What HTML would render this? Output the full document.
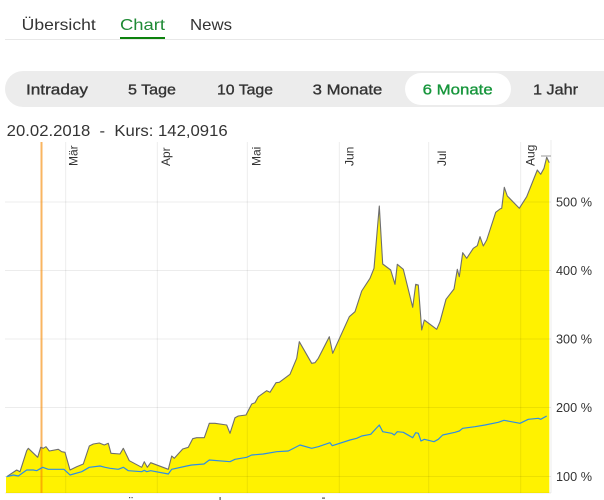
<!DOCTYPE html>
<html>
<head>
<meta charset="utf-8">
<style>
html,body{margin:0;padding:0;background:#fff;}
svg{display:block;}
text{font-family:"Liberation Sans",sans-serif;}
</style>
</head>
<body>
<svg width="604" height="500" viewBox="0 0 604 500" xmlns="http://www.w3.org/2000/svg">
  <!-- top tabs -->
  <text x="21.7" y="30" font-size="16" fill="#333" textLength="74" lengthAdjust="spacingAndGlyphs">Übersicht</text>
  <text x="120" y="30" font-size="16" fill="#1f8a35" textLength="45" lengthAdjust="spacingAndGlyphs">Chart</text>
  <text x="190" y="30" font-size="16" fill="#333" textLength="42" lengthAdjust="spacingAndGlyphs">News</text>
  <rect x="120" y="37" width="45" height="2" fill="#0d820d"/>
  <rect x="5" y="39" width="599" height="1" fill="#e8e8e8"/>

  <!-- period bar -->
  <rect x="5" y="71" width="640" height="36" rx="18" fill="#ececec"/>
  <rect x="405" y="73" width="106" height="32" rx="16" fill="#fff"/>
  <g font-size="15" fill="#333" stroke="#333" stroke-width="0.35">
    <text x="26" y="94.3" textLength="62" lengthAdjust="spacingAndGlyphs">Intraday</text>
    <text x="128" y="94.3" textLength="48" lengthAdjust="spacingAndGlyphs">5 Tage</text>
    <text x="217" y="94.3" textLength="56" lengthAdjust="spacingAndGlyphs">10 Tage</text>
    <text x="312.7" y="94.3" textLength="69.6" lengthAdjust="spacingAndGlyphs">3 Monate</text>
    <text x="422.7" y="94.3" textLength="70" lengthAdjust="spacingAndGlyphs" fill="#17963c" stroke="#17963c">6 Monate</text>
    <text x="533" y="94.3" textLength="45" lengthAdjust="spacingAndGlyphs">1 Jahr</text>
  </g>

  <!-- title -->
  <text x="6.7" y="136" font-size="15.5" fill="#333" textLength="221" lengthAdjust="spacingAndGlyphs" xml:space="preserve">20.02.2018  -  Kurs: 142,0916</text>

  <!-- yellow area -->
  <polygon fill="#fff200" points="6,493 6,476.7 6.7,476.7 16.7,470 20,471.7 26.7,450.7 28.3,448.3 37.7,457.3 40.7,447.3 43.3,448.3 46,446.7 49.3,451 58.3,449.3 61.7,451.7 65,452.3 70,470 76.7,466.7 83.3,464 89.3,446 93.3,444 99.3,443 104.3,445 108.3,443.3 111,453.3 120,454 123.3,448.3 129.3,460.7 141.7,467.3 144.3,461.7 147.3,467.3 150.7,462.7 168.3,469.3 171.7,456 174.3,458.3 182.7,449 188.3,447.3 192.7,438.7 196.7,437.7 204.3,437.7 209.3,423.3 215,423.3 226.7,425 230,433.3 235,417.7 238.3,416 246,415 251.7,404 255,402.7 258.3,396.7 266.7,390.7 270,392.3 276,382.7 279.3,382.3 290,374.3 296.7,358.3 299.3,341.7 311.7,363.3 315,362.7 318.3,358.3 329.3,336.7 332.7,353.3 349.3,316.7 355,311.7 361.7,291 370,278.3 374,268.3 379.3,206 382.7,264 390.7,270 395,284.3 397.3,264.3 403.3,269.3 412.7,307.3 415.7,284.3 418.3,285 421.7,330 424.3,320 436.7,329.3 440,321.7 446,299.3 454,289 457.3,269.3 459.3,276.7 462.7,252.7 466.7,258.3 473.3,248.3 477.3,245.7 480,236.7 483.3,246 486.7,240 495.7,212.3 500,209 501.7,208.3 504.3,187.3 507.3,196 519.3,208.3 526.7,196.7 537.3,170 540.7,174.3 544,168.3 546.7,157.3 549.3,162.7 549.3,493"/>

  <!-- grid (on top, translucent) -->
  <g fill="rgba(0,0,0,0.075)">
    <rect x="5" y="201.5" width="546" height="1"/>
    <rect x="5" y="270" width="546" height="1"/>
    <rect x="5" y="338.5" width="546" height="1"/>
    <rect x="5" y="407" width="546" height="1"/>
    <rect x="5" y="476" width="546" height="1"/>
    <rect x="65.2" y="142" width="1" height="351"/>
    <rect x="156.8" y="142" width="1" height="351"/>
    <rect x="246.8" y="142" width="1" height="351"/>
    <rect x="338.8" y="142" width="1" height="351"/>
    <rect x="428.2" y="142" width="1" height="351"/>
    <rect x="520.2" y="142" width="1" height="351"/>
    <rect x="550.5" y="140" width="1" height="353"/>
    <rect x="5" y="492.5" width="546" height="1"/>
  </g>

  <!-- orange marker line -->
  <rect x="40.5" y="142" width="2" height="351" fill="rgba(245,135,0,0.62)"/>

  <!-- gray line of main series -->
  <polyline fill="none" stroke="#6e6e6e" stroke-width="1.1" stroke-linejoin="round" points="6.7,476.7 16.7,470 20,471.7 26.7,450.7 28.3,448.3 37.7,457.3 40.7,447.3 43.3,448.3 46,446.7 49.3,451 58.3,449.3 61.7,451.7 65,452.3 70,470 76.7,466.7 83.3,464 89.3,446 93.3,444 99.3,443 104.3,445 108.3,443.3 111,453.3 120,454 123.3,448.3 129.3,460.7 141.7,467.3 144.3,461.7 147.3,467.3 150.7,462.7 168.3,469.3 171.7,456 174.3,458.3 182.7,449 188.3,447.3 192.7,438.7 196.7,437.7 204.3,437.7 209.3,423.3 215,423.3 226.7,425 230,433.3 235,417.7 238.3,416 246,415 251.7,404 255,402.7 258.3,396.7 266.7,390.7 270,392.3 276,382.7 279.3,382.3 290,374.3 296.7,358.3 299.3,341.7 311.7,363.3 315,362.7 318.3,358.3 329.3,336.7 332.7,353.3 349.3,316.7 355,311.7 361.7,291 370,278.3 374,268.3 379.3,206 382.7,264 390.7,270 395,284.3 397.3,264.3 403.3,269.3 412.7,307.3 415.7,284.3 418.3,285 421.7,330 424.3,320 436.7,329.3 440,321.7 446,299.3 454,289 457.3,269.3 459.3,276.7 462.7,252.7 466.7,258.3 473.3,248.3 477.3,245.7 480,236.7 483.3,246 486.7,240 495.7,212.3 500,209 501.7,208.3 504.3,187.3 507.3,196 519.3,208.3 526.7,196.7 537.3,170 540.7,174.3 544,168.3 546.7,157.3 549.3,162.7"/>

  <!-- blue benchmark line -->
  <polyline fill="none" stroke="#2f8de4" stroke-width="1.2" stroke-linejoin="round" points="6.7,476.7 13.3,475 18.3,476 26.7,470 33.3,470 36.7,470.7 42.7,467.3 48.3,469.3 64,469.3 70,475 81.7,471.7 89.3,467.3 100,466 105,467.3 110,468.3 118.3,469.3 123.3,467.3 128.3,470.7 141.7,471.7 144.3,470.3 146.7,471.7 150.7,470.7 168.3,474 171.7,469.3 186.7,466 191.7,465 204,464 209.3,460 230,461.7 235,459.3 246.7,457.3 251.7,455 263.3,454 276.7,451.7 288.3,451 300,445 311.7,448.3 318.3,446.7 330,442.7 332.3,445.7 350,440 356.7,438.3 361.7,436 370.7,434.3 379.3,425 382.7,431.7 391.7,433.3 394.3,435 397.3,431.7 403.3,432.3 412.7,437.7 415.7,432.7 418.3,433.3 421,441 424.3,439.3 434,441.7 438.3,439.3 442.7,435 455,432.3 459.3,431 462.7,428.3 475,426.7 485,425 498.3,422.3 504,420.3 520,423.3 528.3,419.3 538.3,418.3 540.7,419.3 546.7,416"/>

  <!-- max marker tick -->
  <rect x="541" y="155.5" width="10" height="1" fill="#999"/>

  <!-- month labels -->
  <g font-size="12" fill="#333">
    <text transform="translate(77.5,166) rotate(-90)">Mär</text>
    <text transform="translate(170,166) rotate(-90)">Apr</text>
    <text transform="translate(260.5,166) rotate(-90)">Mai</text>
    <text transform="translate(353.5,166) rotate(-90)">Jun</text>
    <text transform="translate(446,166) rotate(-90)">Jul</text>
    <text transform="translate(534.5,166) rotate(-90)">Aug</text>
  </g>

  <!-- y axis labels -->
  <g font-size="13" fill="#333">
    <text x="556" y="206.5" textLength="36" lengthAdjust="spacingAndGlyphs">500 %</text>
    <text x="556" y="275" textLength="36" lengthAdjust="spacingAndGlyphs">400 %</text>
    <text x="556" y="343.5" textLength="36" lengthAdjust="spacingAndGlyphs">300 %</text>
    <text x="556" y="412" textLength="36" lengthAdjust="spacingAndGlyphs">200 %</text>
    <text x="556" y="481" textLength="36" lengthAdjust="spacingAndGlyphs">100 %</text>
  </g>

  <!-- clipped text tops at bottom edge -->
  <g fill="#555">
    <rect x="129" y="497" width="1.2" height="1.2"/>
    <rect x="131.5" y="497" width="1.2" height="1.2"/>
    <rect x="219.5" y="497" width="1.2" height="3"/>
    <rect x="322" y="497.5" width="3" height="1.2"/>
  </g>
</svg>
</body>
</html>
